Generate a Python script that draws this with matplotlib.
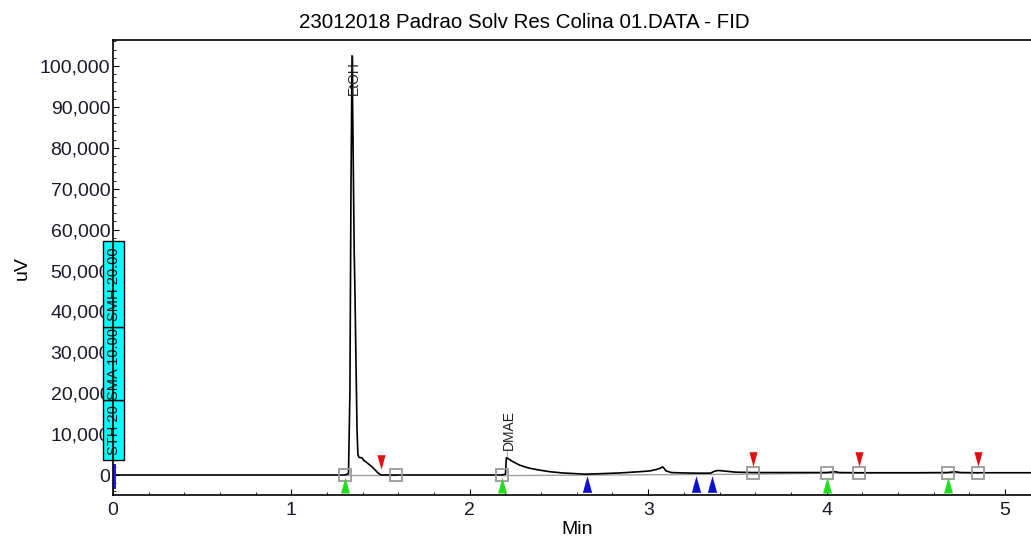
import numpy as np
import matplotlib.pyplot as plt
from matplotlib.ticker import MultipleLocator, FuncFormatter
from matplotlib.patches import Rectangle

plt.rcParams['font.family'] = ['Liberation Sans', 'DejaVu Sans']

title = '23012018 Padrao Solv Res Colina 01.DATA - FID'

# detector signal (min, uV)
t = [0.00, 1.300, 1.320, 1.328, 1.334, 1.340, 1.346, 1.352, 1.357, 1.363,
     1.368, 1.373, 1.380, 1.396, 1.405, 1.418, 1.435, 1.452, 1.470, 1.485,
     1.502, 1.585, 2.180, 2.200, 2.205, 2.215, 2.240, 2.280, 2.330, 2.390,
     2.450, 2.520, 2.650, 2.750, 2.840, 2.950, 3.010, 3.050, 3.070, 3.080,
     3.090, 3.100, 3.130, 3.200, 3.270, 3.350, 3.370, 3.390, 3.420, 3.490,
     3.590, 3.800, 4.000, 4.050, 4.070, 4.180, 4.500, 4.680, 4.720, 4.750,
     4.850, 5.146]
uv = [0, 0, 300, 20000, 70000, 102500, 80000, 55000, 42800, 25000,
      11000, 4900, 4300, 4200, 3600, 3200, 2600, 2000, 1200, 500,
      0, 0, 0, 200, 4200, 4000, 3300, 2400, 1700, 1200,
      800, 500, 200, 350, 500, 800, 1000, 1400, 1700, 2000,
      1600, 1000, 600, 500, 450, 450, 900, 1100, 1000, 700,
      600, 600, 600, 800, 600, 550, 550, 600, 800, 600,
      550, 550]

# peak names
peak_names = ['EtOH', 'DMAE']
peak_times = [1.340, 2.205]
peak_label_y = [92900, 6100]
peak_tops = [102500, 4200]

# integration baseline points (boxes)
box_t = [1.300, 1.585, 2.180, 3.590, 4.000, 4.180, 4.680, 4.850]
box_y = [0, 0, 0, 500, 500, 500, 500, 500]

# event markers
start_t = [1.300, 2.180, 4.000, 4.680]      # green
end_t = [1.502, 3.590, 4.180, 4.850]        # red
split_t = [2.657, 3.268, 3.357]             # blue

# timed events on the left
event_names = ['STH 20', 'SMA 10.00', 'SMH 20.00']
event_lo = [3700, 18300, 36200]
event_hi = [18300, 36200, 57200]

fig = plt.figure(figsize=(10.31, 5.40), dpi=100)
ax = fig.add_axes([113 / 1031, 1 - 495 / 540, 1 - 113 / 1031, (495 - 40) / 540])

# baseline
ax.plot([box_t[0], box_t[1]], [0, 0], color='#a0a0a0', lw=1.0, zorder=2)
ax.plot(box_t[2:], [-150, 200, 450, 480, 500, 500], color='#a0a0a0', lw=1.0, zorder=2)

ax.plot(t, uv, color='black', lw=1.2, zorder=3)

ax.plot(box_t, box_y, ls='none', marker='s', ms=8.5, mfc='none',
        mec='#9a9a9a', mew=1.3, zorder=4)

up = [(-0.28, -0.5), (0.28, -0.5), (0, 0.5)]
down = [(-0.28, 0.5), (0.28, 0.5), (0, -0.5)]
ax.plot(start_t, [-2500] * len(start_t), ls='none', marker=up, ms=11.5,
        color='#22dd22', mec='none', zorder=5)
ax.plot(split_t, [-2100] * len(split_t), ls='none', marker=up, ms=12,
        color='#1010cc', mec='none', zorder=5)
ax.plot(end_t, [3300, 3800, 3800, 3800], ls='none', marker=down, ms=10.5,
        color='#e01010', mec='none', zorder=5)

ax.plot([0.006, 0.006], [2400, -3000], color='#2020ee', lw=2.2,
        clip_on=False, zorder=6)

for name, pt, ly, top in zip(peak_names, peak_times, peak_label_y, peak_tops):
    ax.plot([pt + 0.004, pt + 0.004], [top, ly], color='#b0b0b0', lw=0.8, zorder=2)
    ax.text(pt + 0.012, ly, name, rotation=90, ha='center', va='bottom',
            fontsize=10, color='#222222', zorder=6)

for name, lo, hi in zip(event_names, event_lo, event_hi):
    ax.add_patch(Rectangle((-0.056, lo), 0.118, hi - lo, facecolor='#00ffff',
                           edgecolor='black', lw=1.0, clip_on=False, zorder=5))
    ax.text(0.003, (lo + hi) / 2, name, rotation=90, ha='center', va='center',
            fontsize=10.5, color='#111111', clip_on=False, zorder=6)

ax.set_xlim(0, 5.146)
ax.set_ylim(-4890, 106360)
ax.xaxis.set_major_locator(MultipleLocator(1))
ax.xaxis.set_minor_locator(MultipleLocator(0.2))
ax.yaxis.set_major_locator(MultipleLocator(10000))
ax.yaxis.set_minor_locator(MultipleLocator(2000))
ax.yaxis.set_major_formatter(FuncFormatter(lambda v, p: f'{v:,.0f}'))
ax.tick_params(which='both', direction='in', labelsize=14, colors='black',
               labelcolor='#1a1a2a')
ax.tick_params(which='major', length=4)
ax.tick_params(which='minor', length=2.5)
ax.tick_params(axis='x', pad=5)
ax.tick_params(axis='y', pad=2)
ax.spines['right'].set_visible(False)
for s in ['left', 'top', 'bottom']:
    ax.spines[s].set_linewidth(1.2)
ax.spines['left'].set_zorder(7)

fig.text(524 / 1031, 1 - 22 / 540, title, ha='center', va='center', fontsize=14.8)
fig.text(22 / 1031, 1 - 268 / 540, 'uV', rotation=90, ha='center', va='center', fontsize=14)
fig.text(577 / 1031, 1 - 529 / 540, 'Min', ha='center', va='center', fontsize=14)

fig.savefig('out.png', dpi=100)
